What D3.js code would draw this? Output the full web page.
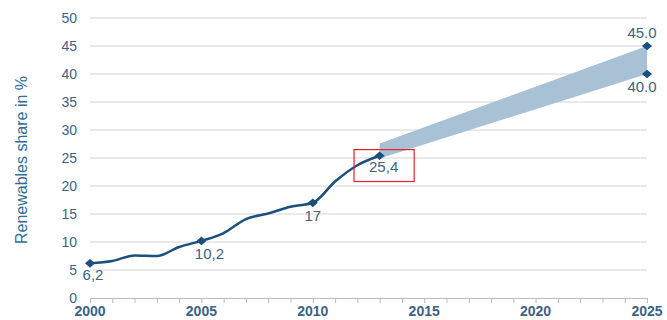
<!DOCTYPE html>
<html><head><meta charset="utf-8">
<script src="https://cdn.jsdelivr.net/npm/d3@7"></script>
<style>body{margin:0;background:#fff}svg{display:block}text{font-family:"Liberation Sans",Arial,sans-serif}</style>
</head><body><svg id="c" width="667" height="320"></svg>
<script>
const years = [2000,2001,2002,2003,2004,2005,2006,2007,2008,2009,2010,2011,2012,2013];
const shares = [6.2,6.6,7.6,7.5,9.1,10.2,11.6,14.1,15.1,16.3,17.0,20.8,23.7,25.4];
const labelled = [{year:2000,value:6.2,text:"6,2"},{year:2005,value:10.2,text:"10,2"},{year:2010,value:17.0,text:"17"},{year:2013,value:25.4,text:"25,4"}];
const bandYears = [2013,2025];
const bandLow = [24.9,40.0];
const bandHigh = [27.6,45.0];
const targets = [{year:2025,value:45.0,text:"45.0"},{year:2025,value:40.0,text:"40.0"}];
const yTicks = [0,5,10,15,20,25,30,35,40,45,50];
const xTicks = [2000,2005,2010,2015,2020,2025];
const highlight = {x0:2011.85,x1:2014.55,y0:26.5,y1:20.8};

const svg = d3.select("#c");
const x = d3.scaleLinear().domain([2000,2025]).range([90,647]);
const y = d3.scaleLinear().domain([0,50]).range([298,18]);
const navy = "#1b4f7c", txt = "#3b6384";

// gridlines
svg.append("g").selectAll("line").data(yTicks.filter(d=>d>0)).join("line")
  .attr("x1",x(2000)).attr("x2",x(2025)).attr("y1",d=>y(d)).attr("y2",d=>y(d))
  .attr("stroke","#d4d4d4").attr("stroke-width",1);

// y tick labels
svg.append("g").selectAll("text").data(yTicks).join("text")
  .attr("x",77).attr("y",d=>y(d)).attr("dy","0.35em").attr("text-anchor","end")
  .attr("font-size",14).attr("fill",txt).text(d=>d);

// x axis
const xAxis = d3.axisBottom(x).tickValues(d3.range(2000,2026)).tickSize(5).tickFormat("");
const gx = svg.append("g").attr("transform",`translate(0,${y(0)})`).call(xAxis);
gx.select(".domain").attr("stroke","#bbbbbb");
gx.selectAll(".tick line").attr("stroke","#bbbbbb");
svg.append("g").selectAll("text").data(xTicks).join("text")
  .attr("x",d=>x(d)).attr("y",316).attr("text-anchor","middle")
  .attr("font-size",14).attr("font-weight","bold").attr("fill",txt).text(d=>d);

// y title
svg.append("text").attr("transform","translate(27,160) rotate(-90)")
  .attr("text-anchor","middle").attr("font-size",16).attr("fill","#2f6d99")
  .text("Renewables share in %");

// band
const bandData = bandYears.map((yr,i)=>({yr,lo:bandLow[i],hi:bandHigh[i]}));
svg.append("path").datum(bandData)
  .attr("d",d3.area().x(d=>x(d.yr)).y0(d=>y(d.lo)).y1(d=>y(d.hi)))
  .attr("fill","#a9c1d5");

// line
const pts = years.map((yr,i)=>({yr,v:shares[i]}));
svg.append("path").datum(pts)
  .attr("d",d3.line().x(d=>x(d.yr)).y(d=>y(d.v)).curve(d3.curveMonotoneX))
  .attr("fill","none").attr("stroke",navy).attr("stroke-width",2.5);

// markers
const diamond = d3.symbol().type(d3.symbolSquare).size(42);
svg.append("g").selectAll("path").data(labelled.concat(targets)).join("path")
  .attr("transform",d=>`translate(${x(d.year)},${y(d.value)}) scale(1.1,0.95) rotate(45)`)
  .attr("d",diamond).attr("fill",navy);

// data labels
const lblOff = {"6,2":[3,17],"10,2":[8,18],"17":[0,18],"25,4":[4,16]};
svg.append("g").selectAll("text").data(labelled).join("text")
  .attr("x",d=>x(d.year)+lblOff[d.text][0]).attr("y",d=>y(d.value)+lblOff[d.text][1])
  .attr("text-anchor","middle").attr("font-size",15).attr("fill",txt).text(d=>d.text);
svg.append("g").selectAll("text").data(targets).join("text")
  .attr("x",d=>x(d.year)-5).attr("y",(d,i)=>y(d.value)+(i===0?-8:18))
  .attr("text-anchor","middle").attr("font-size",15).attr("fill",txt).text(d=>d.text);

// highlight box
svg.append("rect").attr("x",x(highlight.x0)).attr("y",y(highlight.y0))
  .attr("width",x(highlight.x1)-x(highlight.x0)).attr("height",y(highlight.y1)-y(highlight.y0))
  .attr("fill","none").attr("stroke","#e8202a").attr("stroke-width",1.2);
</script></body></html>
